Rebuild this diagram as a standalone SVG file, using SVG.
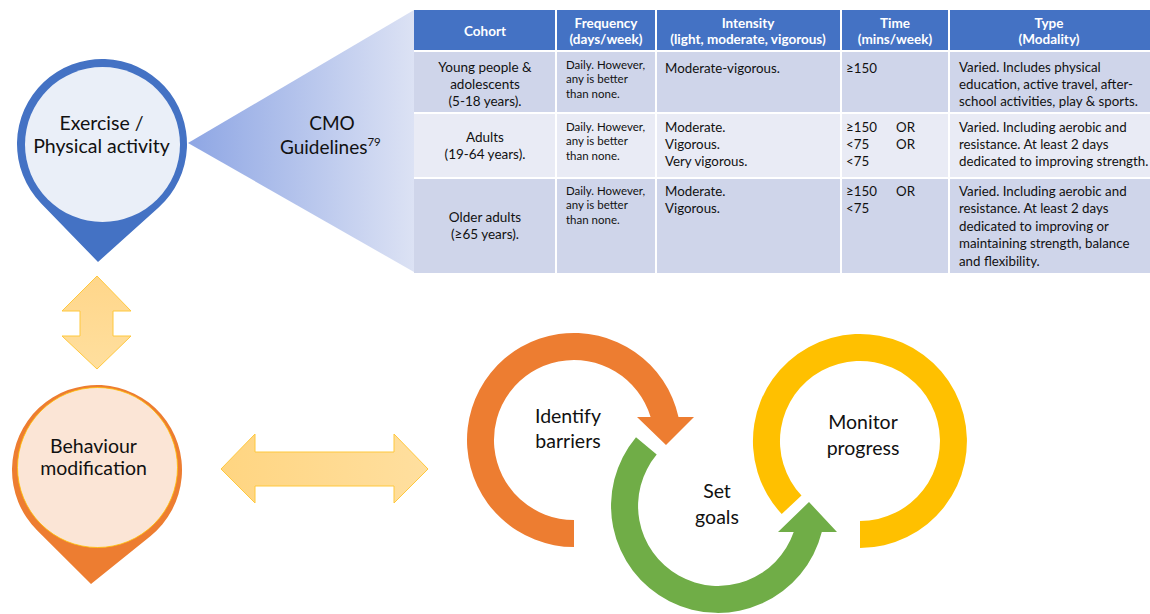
<svg xmlns="http://www.w3.org/2000/svg" width="1150" height="614" viewBox="0 0 1150 614">
<defs>
<linearGradient id="tri" x1="188" y1="0" x2="414" y2="0" gradientUnits="userSpaceOnUse">
<stop offset="0" stop-color="#8EA6E4"/>
<stop offset="1" stop-color="#DCE2F4"/>
</linearGradient>
<linearGradient id="varr" x1="0" y1="0" x2="0" y2="1">
<stop offset="0" stop-color="#FFD68A"/>
<stop offset="1" stop-color="#FFDF9E"/>
</linearGradient>
<linearGradient id="harr" x1="0" y1="0" x2="1" y2="0">
<stop offset="0" stop-color="#FFD581"/>
<stop offset="1" stop-color="#FFDF9F"/>
</linearGradient>
<style>
text{font-family:Lato,"Open Sans",sans-serif;fill:#111}
.big{font-size:19.5px}
.cmo{font-size:19px}
.cyc{font-size:19.5px}
.hd{font-size:13.5px;font-weight:bold;fill:#fff;text-anchor:middle}
.c{font-size:13.3px}
.cm{font-size:13.5px;text-anchor:middle}
.s{font-size:11.5px}
.mid{text-anchor:middle}
.cell1{fill:#CFD5EA}
.cell2{fill:#E9EBF5}
.arrowbox{stroke:#FFC83D;stroke-width:1}
</style>
</defs>
<rect width="1150" height="614" fill="#fff"/>

<g id="guidelines-wedge">
<polygon points="188,143 414,10 414,272" fill="url(#tri)"/>
<text class="cmo mid" x="332" y="130">CMO</text>
<text class="cmo" x="280" y="154">Guidelines<tspan font-size="11.5" dy="-8">79</tspan></text>
</g>

<g id="table">
<rect x="414" y="10" width="736" height="263" fill="#fff"/>
<rect x="414" y="10" width="736" height="40" fill="#4472C4"/>
<rect x="414" y="52" width="141" height="60" class="cell1"/>
<rect x="557" y="52" width="98" height="60" class="cell1"/>
<rect x="657" y="52" width="183" height="60" class="cell1"/>
<rect x="842" y="52" width="106" height="60" class="cell1"/>
<rect x="950" y="52" width="200" height="60" class="cell1"/>
<rect x="414" y="114" width="141" height="63" class="cell2"/>
<rect x="557" y="114" width="98" height="63" class="cell2"/>
<rect x="657" y="114" width="183" height="63" class="cell2"/>
<rect x="842" y="114" width="106" height="63" class="cell2"/>
<rect x="950" y="114" width="200" height="63" class="cell2"/>
<rect x="414" y="179" width="141" height="94" class="cell1"/>
<rect x="557" y="179" width="98" height="94" class="cell1"/>
<rect x="657" y="179" width="183" height="94" class="cell1"/>
<rect x="842" y="179" width="106" height="94" class="cell1"/>
<rect x="950" y="179" width="200" height="94" class="cell1"/>
<line x1="556" y1="10" x2="556" y2="50" stroke="#fff" stroke-width="2"/>
<line x1="656" y1="10" x2="656" y2="50" stroke="#fff" stroke-width="2"/>
<line x1="841" y1="10" x2="841" y2="50" stroke="#fff" stroke-width="2"/>
<line x1="949" y1="10" x2="949" y2="50" stroke="#fff" stroke-width="2"/>

<text class="hd" x="485" y="36">Cohort</text>
<text class="hd" x="606" y="28">Frequency</text>
<text class="hd" x="606" y="44">(days/week)</text>
<text class="hd" x="748" y="28">Intensity</text>
<text class="hd" x="748" y="44">(light, moderate, vigorous)</text>
<text class="hd" x="895" y="28">Time</text>
<text class="hd" x="895" y="44">(mins/week)</text>
<text class="hd" x="1049" y="28">Type</text>
<text class="hd" x="1049" y="44">(Modality)</text>

<text class="cm" x="485" y="72">Young people &amp;</text>
<text class="cm" x="485" y="89">adolescents</text>
<text class="cm" x="485" y="106">(5-18 years).</text>
<text class="s" x="566" y="69">Daily. However,</text>
<text class="s" x="566" y="83">any is better</text>
<text class="s" x="566" y="98">than none.</text>
<text class="c" x="665" y="73">Moderate-vigorous.</text>
<text class="c" x="846" y="73">≥150</text>
<text class="c" x="959" y="72">Varied. Includes physical</text>
<text class="c" x="959" y="89">education, active travel, after-</text>
<text class="c" x="959" y="106">school activities, play &amp; sports.</text>

<text class="cm" x="485" y="142">Adults</text>
<text class="cm" x="485" y="159">(19-64 years).</text>
<text class="s" x="566" y="131">Daily. However,</text>
<text class="s" x="566" y="145">any is better</text>
<text class="s" x="566" y="160">than none.</text>
<text class="c" x="665" y="132">Moderate.</text>
<text class="c" x="665" y="149">Vigorous.</text>
<text class="c" x="665" y="166">Very vigorous.</text>
<text class="c" x="846" y="132">≥150</text>
<text class="c" x="896" y="132">OR</text>
<text class="c" x="846" y="149">&lt;75</text>
<text class="c" x="896" y="149">OR</text>
<text class="c" x="846" y="166">&lt;75</text>
<text class="c" x="959" y="132">Varied. Including aerobic and</text>
<text class="c" x="959" y="149">resistance. At least 2 days</text>
<text class="c" x="959" y="166">dedicated to improving strength.</text>

<text class="cm" x="485" y="222">Older adults</text>
<text class="cm" x="485" y="239">(≥65 years).</text>
<text class="s" x="566" y="195">Daily. However,</text>
<text class="s" x="566" y="209">any is better</text>
<text class="s" x="566" y="224">than none.</text>
<text class="c" x="665" y="196">Moderate.</text>
<text class="c" x="665" y="213">Vigorous.</text>
<text class="c" x="846" y="196">≥150</text>
<text class="c" x="896" y="196">OR</text>
<text class="c" x="846" y="213">&lt;75</text>
<text class="c" x="959" y="196">Varied. Including aerobic and</text>
<text class="c" x="959" y="213">resistance. At least 2 days</text>
<text class="c" x="959" y="231">dedicated to improving or</text>
<text class="c" x="959" y="248">maintaining strength, balance</text>
<text class="c" x="959" y="266">and flexibility.</text>
</g>

<g id="exercise">
<path d="M98 262 L40.95 203.15 A85 85 0 1 1 158.88 207.17 Z" fill="#4472C4"/>
<circle cx="102.5" cy="144.5" r="77.5" fill="#EAEFF8"/>
<text class="big mid" x="101.5" y="130">Exercise /</text>
<text class="big mid" x="101.5" y="153">Physical activity</text>
</g>

<g id="behaviour">
<path d="M91 584 L37.01 530.21 A85 85 0 1 1 150.33 536.19 Z" fill="#ED7D31"/>
<circle cx="97.5" cy="467.5" r="80" fill="#FBE5D6" stroke="#FFC000" stroke-width="0.8"/>
<text class="big mid" x="93.5" y="453">Behaviour</text>
<text class="big mid" x="93.5" y="475">modification</text>
</g>

<g id="cycle">
<g id="identify-barriers">
<path d="M574 547 A107 107 0 1 1 678.5 417 L694 417 L666 445 L637 417 L650.6 417 A80 80 0 1 0 574 520 Z" fill="#ED7D31"/>
<text class="cyc mid" x="568" y="423">Identify</text>
<text class="cyc mid" x="568" y="448">barriers</text>
</g>
<g id="set-goals">
<path d="M636 437.2 A107 107 0 1 0 821.8 532 L837 532 L809 502 L778 532 L793.7 532 A80 80 0 1 1 656.7 454.6 Z" fill="#70AD47"/>
<text class="cyc mid" x="717" y="498">Set</text>
<text class="cyc mid" x="717" y="524">goals</text>
</g>
<g id="monitor-progress">
<path d="M860 548 A107 107 0 1 0 781.7 514 L801.5 495.6 A80 80 0 1 1 860 521 Z" fill="#FFC000"/>
<text class="cyc mid" x="863" y="429">Monitor</text>
<text class="cyc mid" x="863" y="455">progress</text>
</g>
</g>

<g id="connectors">
<polygon class="arrowbox" points="97,276 131,311 113,311 113,336 131,336 97,369 62,336 80,336 80,311 62,311" fill="url(#varr)"/>
<polygon class="arrowbox" points="221,469 255,434 255,452 394,452 394,434 428,469 394,503 394,486 255,486 255,503" fill="url(#harr)"/>
</g>
</svg>
